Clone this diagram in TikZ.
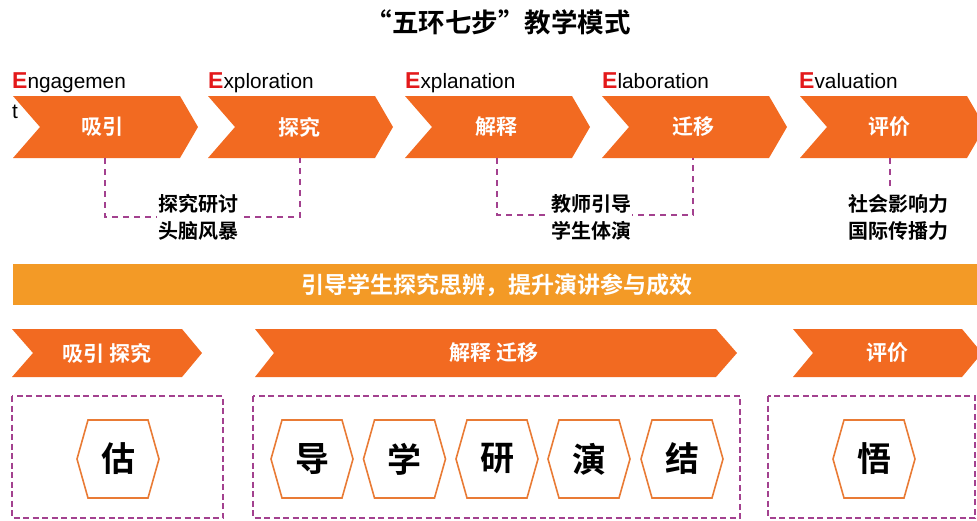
\documentclass[tikz,border=0pt]{standalone}
\usepackage{fontspec}
\setmainfont{Liberation Sans}
\newfontfamily\cjk[BoldFont={Noto Sans CJK SC Bold}]{Noto Sans CJK SC}
\definecolor{chevc}{HTML}{F26A21}
\definecolor{barc}{HTML}{F39A26}
\definecolor{ered}{HTML}{E3191B}
\definecolor{purp}{HTML}{A3418F}
\definecolor{hexc}{HTML}{E97B35}
\tikzset{
  chevfill/.style={fill=chevc},
  chevtext/.style={text=white,font=\cjk\bfseries\fontsize{21}{21}\selectfont},
  chevtextsmall/.style={text=white,font=\cjk\bfseries\fontsize{21}{21}\selectfont},
  conn/.style={draw=purp,line width=1.4pt,dash pattern=on 6pt off 5pt},
  boxd/.style={draw=purp,line width=1.4pt,dash pattern=on 6pt off 3.5pt},
  note/.style={fill=white,inner sep=1pt,align=center,font=\cjk\bfseries\fontsize{20}{27}\selectfont},
  elabel/.style={anchor=base west,inner sep=0pt,font=\fontsize{20.8}{20.8}\selectfont},
  hexline/.style={draw=hexc,line width=1.6pt,fill=white},
  hexa/.pic={\path[hexline] (-41,0) -- (-30,-39) -- (30,-39) -- (41,0) -- (30,39) -- (-30,39) -- cycle;},
  hextext/.style={font=\cjk\bfseries\fontsize{34}{34}\selectfont},
}
\newcommand\Ered[1]{{\color{ered}\bfseries\fontsize{23}{23}\selectfont #1}}
\begin{document}
\begin{tikzpicture}[x=1pt,y=-1pt]
\useasboundingbox (0,0) rectangle (977,520);
\clip (0,0) rectangle (977,520);
% title
\node[font=\cjk\bfseries\fontsize{26.5}{26.5}\selectfont] (title) at (498,22) {“五环七步”教学模式};
% top chevrons
\foreach \L in {13,208,405,602,800} {
  \fill[chevfill] (\L,96) -- (\L+167,96) -- (\L+185,127) -- (\L+167,158) -- (\L,158) -- (\L+27,127) -- cycle;
}
\node[chevtext] (c1) at (102,127) {吸引};
\node[chevtext] (c2) at (299,127) {探究};
\node[chevtext] (c3) at (496,127) {解释};
\node[chevtext] (c4) at (693,127) {迁移};
\node[chevtext] (c5) at (889,127) {评价};
% labels
\node[elabel] (l1) at (12,88) {\Ered{E}ngagemen};
\node[elabel] (l1b) at (12,118) {t};
\node[elabel] (l2) at (208,88) {\Ered{E}xploration};
\node[elabel] (l3) at (405,88) {\Ered{E}xplanation};
\node[elabel] (l4) at (602,88) {\Ered{E}laboration};
\node[elabel] (l5) at (799,88) {\Ered{E}valuation};
% connectors
\coordinate (d1a) at (105,158);
\coordinate (d1b) at (300,158);
\coordinate (d2a) at (497,158);
\coordinate (d2b) at (693,158);
\coordinate (d3a) at (890,158);
\coordinate (d3b) at (890,186);
\draw[conn] (d1a) -- ++(0,59) -| (d1b);
\draw[conn] (d2a) -- ++(0,57) -| (d2b);
\draw[conn] (d3a) -- (d3b);
\node[note] (n1) at (198,217) {探究研讨\\头脑风暴};
\node[note] (n2) at (591,217) {教师引导\\学生体演};
\node[note] (n3) at (898,217) {社会影响力\\国际传播力};
% bar
\fill[barc] (13,264) rectangle (977,305);
\node[text=white,font=\cjk\bfseries\fontsize{23}{23}\selectfont] (bar) at (497,285) {引导学生探究思辨，提升演讲参与成效};
% bottom chevrons
\fill[chevfill] (12,329) -- (182,329) -- (202,353) -- (182,377) -- (12,377) -- (33,353) -- cycle;
\fill[chevfill] (255,329) -- (716,329) -- (737,353) -- (716,377) -- (255,377) -- (274,353) -- cycle;
\fill[chevfill] (793,329) -- (962,329) -- (982,353) -- (962,377) -- (793,377) -- (813,353) -- cycle;
\node[chevtextsmall] (b1) at (107,353) {吸引 探究};
\node[chevtextsmall] (b2) at (494,353) {解释 迁移};
\node[chevtextsmall] (b3) at (887,353) {评价};
% dashed boxes
\draw[boxd] (12,396) rectangle (223,518);
\draw[boxd] (253,396) rectangle (740,518);
\draw[boxd] (768,396) rectangle (975,518);
% hexagons
\foreach \x/\c/\n in {118/估/h1,312/导/h2,404.5/学/h3,497/研/h4,589/演/h5,682/结/h6,874/悟/h7} {
  \pic at (\x,459) {hexa};
  \node[hextext] (\n) at (\x,459) {\c};
}
\end{tikzpicture}
\end{document}
